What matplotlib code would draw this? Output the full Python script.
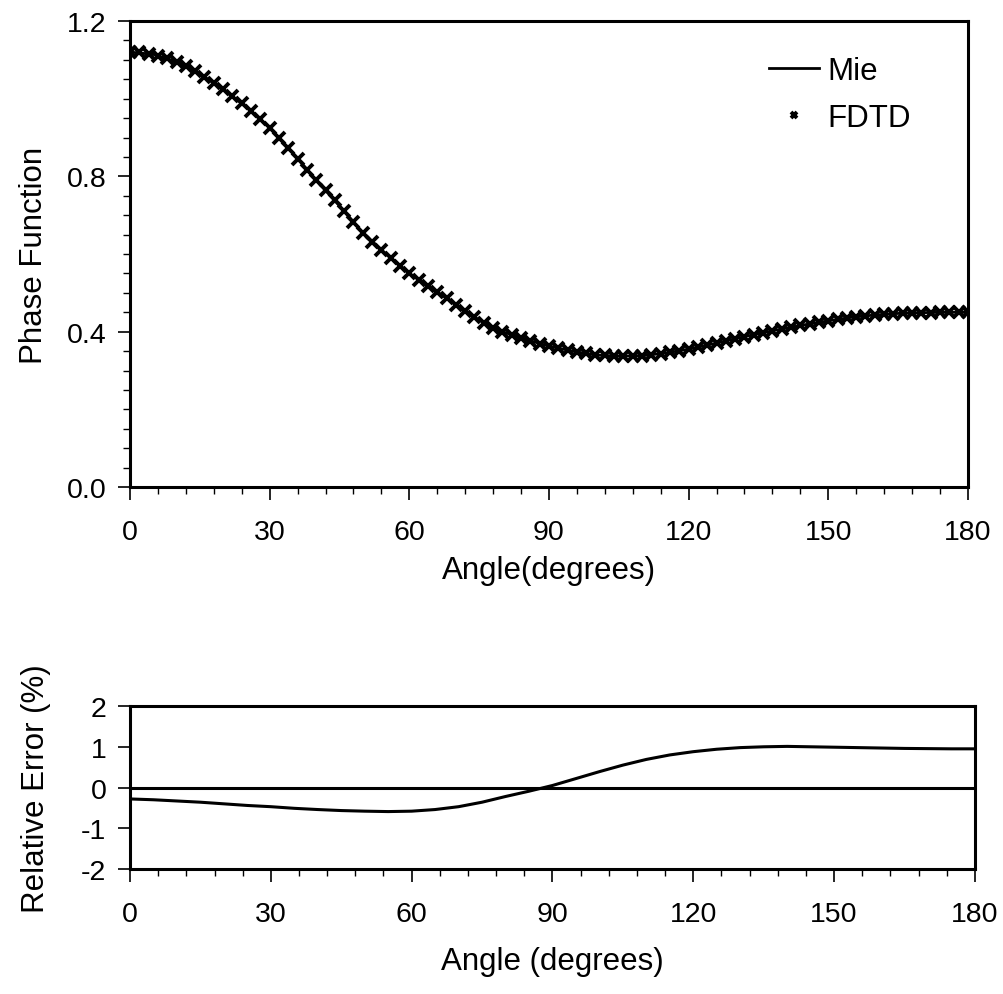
import matplotlib
matplotlib.use("Agg")
import matplotlib.pyplot as plt
import numpy as np
from matplotlib.ticker import MultipleLocator

plt.rcParams["font.family"] = ["Liberation Sans", "DejaVu Sans"]
plt.rcParams["axes.unicode_minus"] = False

# Funcio de fase (Mie), cada 5 graus
angles_mie = list(range(0, 181, 5))
mie_phase = [1.120, 1.114, 1.095, 1.064, 1.024, 0.978, 0.925, 0.860, 0.790,
             0.724, 0.655, 0.600, 0.550, 0.510, 0.470, 0.430, 0.400, 0.380,
             0.363, 0.350, 0.340, 0.337, 0.338, 0.345, 0.355, 0.368, 0.382,
             0.395, 0.407, 0.418, 0.428, 0.437, 0.443, 0.447, 0.449, 0.450,
             0.450]

# Punts FDTD, cada 2 graus
angles_fdtd = list(range(0, 181, 2))
fdtd_phase = [1.120, 1.119, 1.116, 1.111, 1.104, 1.095, 1.084, 1.071, 1.057, 1.041,
              1.024, 1.006, 0.988, 0.968, 0.947, 0.925, 0.900, 0.873, 0.845, 0.817,
              0.790, 0.764, 0.738, 0.711, 0.683, 0.655, 0.632, 0.610, 0.589, 0.569,
              0.550, 0.534, 0.518, 0.502, 0.486, 0.470, 0.454, 0.438, 0.422, 0.410,
              0.400, 0.391, 0.383, 0.376, 0.369, 0.363, 0.358, 0.353, 0.348, 0.344,
              0.340, 0.339, 0.337, 0.337, 0.337, 0.338, 0.340, 0.343, 0.347, 0.351,
              0.355, 0.360, 0.365, 0.371, 0.377, 0.382, 0.387, 0.392, 0.397, 0.402,
              0.407, 0.411, 0.416, 0.420, 0.424, 0.428, 0.432, 0.435, 0.438, 0.441,
              0.443, 0.445, 0.446, 0.447, 0.448, 0.449, 0.449, 0.450, 0.450, 0.450,
              0.450]

# Error relatiu (%), cada 5 graus
angles_err = list(range(0, 181, 5))
rel_error = [-0.28, -0.30, -0.33, -0.36, -0.40, -0.44, -0.47, -0.51, -0.54,
             -0.565, -0.58, -0.59, -0.58, -0.54, -0.47, -0.36, -0.22, -0.09,
             0.05, 0.22, 0.39, 0.55, 0.69, 0.80, 0.88, 0.94, 0.98, 1.00, 1.01,
             1.00, 0.99, 0.98, 0.97, 0.96, 0.955, 0.95, 0.95]

x_ticks = [0, 30, 60, 90, 120, 150, 180]

FS_TICK = 20.5
FS_LAB = 22.5
LW = 2.2

fig = plt.figure(figsize=(10.04, 9.95), dpi=100)
ax1 = fig.add_axes([0.1295, 0.5095, 0.8345, 0.4684])
ax2 = fig.add_axes([0.1295, 0.1256, 0.8415, 0.1638])


def estil_eixos(ax):
    for s in ax.spines.values():
        s.set_linewidth(LW)
    ax.tick_params(which="major", direction="out", length=9, width=1.2,
                   labelsize=FS_TICK)
    ax.tick_params(which="minor", direction="out", length=5, width=1)
    ax.tick_params(axis="x", which="major", pad=14)
    ax.tick_params(axis="y", which="major", pad=8)


# Grafica superior
ax1.plot(angles_mie, mie_phase, color="black", lw=2, label="Mie")
ax1.plot(angles_fdtd, fdtd_phase, ls="none", marker="x", color="black",
         markersize=8, markeredgewidth=2.8, label="FDTD")
ax1.set_xlim(0, 180)
ax1.set_ylim(0, 1.2)
ax1.set_xticks(x_ticks)
ax1.set_yticks([0.0, 0.4, 0.8, 1.2])
ax1.set_yticklabels(["0.0", "0.4", "0.8", "1.2"])
ax1.xaxis.set_minor_locator(MultipleLocator(6))
ax1.yaxis.set_minor_locator(MultipleLocator(0.05))
estil_eixos(ax1)
ax1.set_xlabel("Angle(degrees)", fontsize=FS_LAB, labelpad=7)
ax1.set_ylabel("Phase Function", fontsize=FS_LAB, labelpad=13)
ax1.legend(loc="upper right", bbox_to_anchor=(0.965, 0.985), frameon=False,
           fontsize=FS_LAB, handlelength=1.6, handletextpad=0.25,
           labelspacing=0.55, markerscale=0.6)

# Grafica inferior
ax2.plot(angles_err, rel_error, color="black", lw=2.2)
ax2.axhline(0, color="black", lw=2.2)
ax2.set_xlim(0, 180)
ax2.set_ylim(-2, 2)
ax2.set_xticks(x_ticks)
ax2.set_yticks([-2, -1, 0, 1, 2])
ax2.xaxis.set_minor_locator(MultipleLocator(6))
estil_eixos(ax2)
ax2.set_xlabel("Angle (degrees)", fontsize=FS_LAB, labelpad=14)
ax2.set_ylabel("Relative Error (%)", fontsize=FS_LAB, labelpad=22)

fig.savefig("out.png", dpi=100)
